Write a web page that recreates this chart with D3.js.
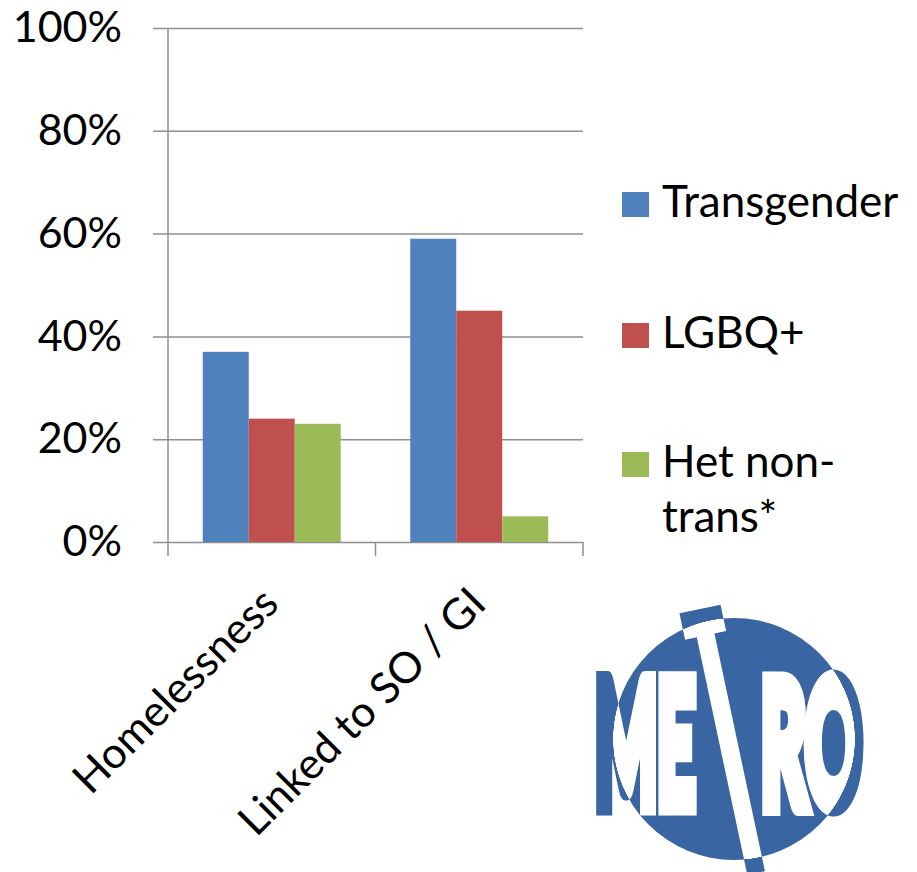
<!DOCTYPE html>
<html>
<head>
<meta charset="utf-8">
<script src="https://cdn.jsdelivr.net/npm/d3@7"></script>
<style>
  html, body { margin: 0; padding: 0; background: #fff; }
  text { font-family: Lato, "Open Sans", sans-serif; }
</style>
</head>
<body>
<div id="chart"></div>
<script>
// data
const categories = ["Homelessness", "Linked to SO / GI"];
const series = ["Transgender", "LGBQ+", "Het non-trans*"];
const transgender = [0.37, 0.59];
const lgbq = [0.24, 0.45];
const hetNonTrans = [0.23, 0.05];
const yTicks = [0, 0.2, 0.4, 0.6, 0.8, 1];
const legendLines = [["Transgender"], ["LGBQ+"], ["Het non-", "trans*"]];

const colors = ["#4f81bd", "#c0504d", "#9bbb59"];
const values = [transgender, lgbq, hetNonTrans];

const width = 917, height = 872;
const svg = d3.select("#chart").append("svg")
  .attr("width", width)
  .attr("height", height);
const defs = svg.append("defs");

let y = d3.scaleLinear().domain([0, 1]).range([542, 28]);
let x0 = d3.scaleBand().domain(categories).range([168, 583]);
let groupW = x0.bandwidth() * 0.665;
let x1 = d3.scaleBand().domain(series)
  .range([(x0.bandwidth() - groupW) / 2, (x0.bandwidth() + groupW) / 2]);

// gridlines + y labels
let yAxis = svg.append("g")
  .attr("transform", "translate(583,0)")
  .call(d3.axisLeft(y).tickValues(yTicks).tickFormat(d3.format(".0%"))
    .tickSize(430).tickPadding(31));
yAxis.select(".domain").remove();
yAxis.selectAll(".tick line").attr("stroke", "#8f8f8f").attr("stroke-width", 1.5);
yAxis.selectAll(".tick text")
  .attr("font-family", "Lato, sans-serif")
  .attr("font-size", 43)
  .attr("fill", "#000");

// vertical axis line
svg.append("line")
  .attr("x1", 168).attr("x2", 168)
  .attr("y1", y(1)).attr("y2", y(0) + 14)
  .attr("stroke", "#8f8f8f").attr("stroke-width", 1.5);

// category ticks
let edges = categories.map(c => x0(c)).concat([x0.range()[1]]);
svg.selectAll(".cat-tick")
  .data(edges.slice(1))
  .enter().append("line")
  .attr("class", "cat-tick")
  .attr("x1", d => d).attr("x2", d => d)
  .attr("y1", y(0)).attr("y2", y(0) + 14)
  .attr("stroke", "#8f8f8f").attr("stroke-width", 1.5);

// bars
let groups = svg.selectAll(".group")
  .data(categories)
  .enter().append("g")
  .attr("class", "group")
  .attr("transform", c => "translate(" + x0(c) + ",0)");

groups.selectAll("rect")
  .data((c, i) => series.map((s, j) => ({ s: s, v: values[j][i], j: j })))
  .enter().append("rect")
  .attr("x", d => x1(d.s))
  .attr("width", x1.bandwidth())
  .attr("y", d => y(d.v))
  .attr("height", d => y(0) - y(d.v))
  .attr("fill", d => colors[d.j]);

// rotated category labels
svg.selectAll(".cat-label")
  .data(categories)
  .enter().append("text")
  .attr("class", "cat-label")
  .attr("text-anchor", "end")
  .attr("font-size", 43)
  .attr("transform", c => "translate(" + (x0(c) + x0.bandwidth() / 2 + 9) + ",606) rotate(-45)")
  .text(c => c);

// legend
let legend = svg.selectAll(".legend")
  .data(series)
  .enter().append("g")
  .attr("class", "legend")
  .attr("transform", (s, i) => "translate(622," + [192, 323, 452][i] + ")");

legend.append("rect")
  .attr("width", 27).attr("height", 25)
  .attr("fill", (s, i) => colors[i]);

legend.append("text")
  .attr("x", 40)
  .attr("font-size", 44)
  .selectAll("tspan")
  .data((s, i) => legendLines[i])
  .enter().append("tspan")
  .attr("x", 40)
  .attr("y", (d, k) => 25 + k * 55)
  .text(d => d);

// METRO logo: white inside the circle, blue outside (hard-stop radial fill)
const logoBlue = "#3966a2";
const cx = 734, cy = 739, cr = 121;
function logoGradient(id, transform) {
  let g = defs.append("radialGradient")
    .attr("id", id)
    .attr("gradientUnits", "userSpaceOnUse")
    .attr("cx", cx).attr("cy", cy).attr("r", cr)
    .attr("fx", cx).attr("fy", cy);
  if (transform) g.attr("gradientTransform", transform);
  g.append("stop").attr("offset", 0.997).attr("stop-color", "#fff");
  g.append("stop").attr("offset", 1).attr("stop-color", logoBlue);
}
logoGradient("logo-fill");

let logo = svg.append("g");
logo.append("circle").attr("cx", cx).attr("cy", cy).attr("r", cr).attr("fill", logoBlue);

logo.selectAll(".logo-letters")
  .data([{ t: "ME", x: 595, w: 100 }, { t: "RO", x: 761, w: 101 }])
  .enter().append("text")
  .attr("class", "logo-letters")
  .attr("font-family", "DejaVu Sans Condensed, DejaVu Sans, sans-serif")
  .attr("font-weight", "bold")
  .attr("font-size", 170)
  .text(d => d.t)
  .each(function(d, i) {
    let sx = d.w / this.getComputedTextLength();
    let id = "logo-fill-" + i;
    logoGradient(id, "scale(" + (1 / sx) + ",1) translate(" + (-d.x) + ",-805)");
    d3.select(this)
      .attr("transform", "translate(" + d.x + ",805) scale(" + sx + ",1)")
      .attr("fill", "url(#" + id + ")")
      .attr("stroke", "url(#" + id + ")")
      .attr("stroke-width", 16)
      .attr("stroke-linejoin", "miter")
      .attr("vector-effect", "non-scaling-stroke");
  });

// the slanted T
const rot = -12 * Math.PI / 180;
function teePoint(px, py) {
  return [700 + px * Math.cos(rot) - py * Math.sin(rot),
          609 + px * Math.sin(rot) + py * Math.cos(rot)];
}
let teeShapes = [
  [[-21, 0], [21, 0], [21, 27], [-21, 27]],
  [[-9, 25], [9, 25], [9, 270], [-9, 270]]
];
logo.selectAll(".tee")
  .data(teeShapes)
  .enter().append("path")
  .attr("class", "tee")
  .attr("d", pts => "M" + pts.map(p => teePoint(p[0], p[1]).join(",")).join("L") + "Z")
  .attr("fill", "url(#logo-fill)");
</script>
</body>
</html>
